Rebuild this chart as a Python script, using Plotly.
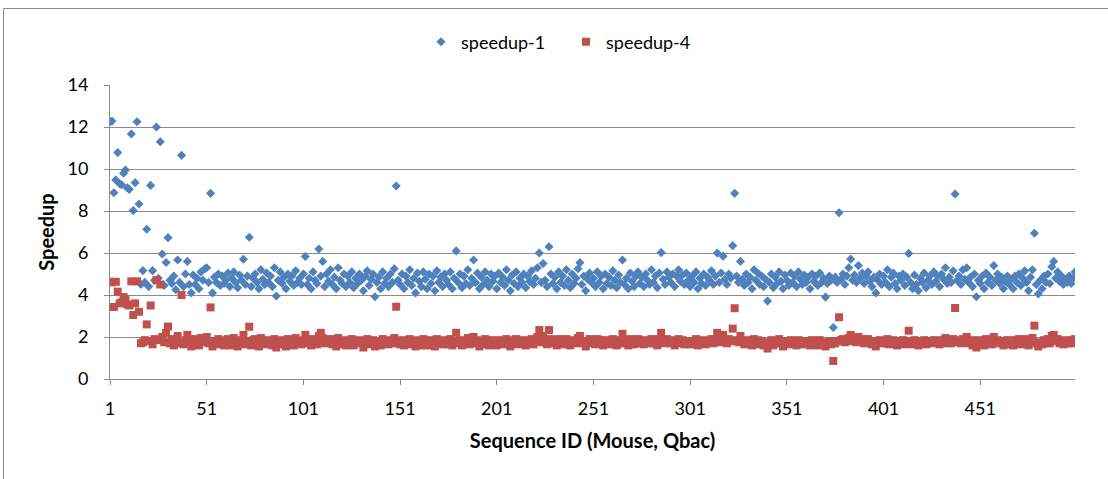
import plotly.graph_objects as go

# ---- data ----
speedup_1 = [
    12.25, 12.28, 8.87, 9.48, 10.78, 9.3, 9.25, 9.8, 9.95, 9.1, 9.03, 11.67, 8.02, 9.35, 12.25, 8.33, 4.5, 5.16, 4.6, 7.13, 4.4, 9.22, 5.16, 4.7, 12.0,
    4.8, 11.3, 5.95, 4.45, 5.55, 6.73, 4.7, 4.55, 4.9, 4.25, 5.67, 4.6, 10.65, 4.4, 5.0, 5.6, 4.5, 4.1, 4.95, 4.5, 4.8, 4.3, 5.1, 4.7, 5.25,
    5.3, 4.6, 8.84, 4.1, 4.85, 4.6, 5.0, 4.45, 4.9, 4.55, 4.7, 5.05, 4.4, 4.8, 5.1, 4.6, 4.35, 4.95, 4.7, 5.7, 4.5, 4.9, 6.75, 4.4, 4.8,
    5.0, 4.6, 4.3, 5.2, 4.75, 4.5, 5.05, 4.6, 4.9, 4.4, 5.3, 3.95, 4.7, 5.1, 4.55, 4.85, 4.3, 5.0, 4.65, 4.9, 4.45, 5.15, 4.6, 4.8, 4.5,
    5.0, 5.83, 4.5, 4.8, 4.3, 5.1, 4.7, 4.55, 6.19, 4.9, 5.6, 4.4, 5.0, 4.65, 5.2, 4.5, 4.85, 4.3, 5.3, 4.7, 4.55, 5.0, 4.4, 4.9, 4.6,
    5.1, 4.35, 4.8, 4.55, 5.0, 4.7, 4.2, 4.9, 5.15, 4.45, 4.75, 5.0, 3.92, 4.6, 4.85, 4.3, 5.1, 4.55, 4.8, 4.4, 5.0, 4.6, 5.25, 9.19, 4.7,
    4.5, 5.0, 4.3, 4.9, 4.6, 5.2, 4.45, 4.8, 4.1, 5.05, 4.65, 4.4, 5.1, 4.75, 4.3, 5.0, 4.55, 4.9, 4.2, 5.15, 4.6, 4.85, 4.4, 5.0, 4.7,
    4.5, 5.1, 4.3, 4.8, 6.1, 4.6, 5.0, 4.35, 4.9, 4.55, 5.2, 4.45, 4.8, 5.67, 4.6, 5.05, 4.3, 4.85, 4.5, 5.1, 4.7, 4.4, 5.0, 4.65, 4.9,
    4.3, 5.05, 4.6, 4.85, 4.45, 5.2, 4.7, 4.2, 4.95, 4.55, 5.1, 4.4, 4.8, 4.6, 5.0, 4.35, 4.9, 4.65, 5.15, 4.5, 4.8, 5.3, 6.0, 4.6, 5.5,
    4.7, 4.4, 6.3, 5.0, 4.55, 4.85, 4.3, 5.1, 4.6, 4.9, 4.45, 5.2, 4.7, 4.35, 5.0, 4.55, 4.8, 5.25, 5.54, 4.5, 4.9, 4.2, 4.75, 5.05, 4.6,
    4.8, 4.4, 5.1, 4.6, 4.9, 4.3, 5.0, 4.55, 4.85, 4.45, 5.15, 4.7, 4.35, 4.95, 4.6, 5.67, 4.5, 4.8, 4.3, 5.05, 4.65, 4.4, 4.9, 5.1, 4.55,
    4.85, 4.4, 5.0, 4.7, 4.5, 5.2, 4.6, 4.9, 4.35, 5.05, 6.02, 4.75, 4.5, 5.1, 4.85, 4.6, 5.0, 4.4, 4.9, 5.2, 4.65, 4.95, 4.5, 5.05, 4.7,
    4.4, 4.9, 4.6, 5.1, 4.3, 4.8, 4.55, 5.0, 4.45, 4.85, 4.7, 5.15, 4.5, 4.9, 6.0, 4.6, 5.05, 5.85, 4.75, 4.5, 5.0, 4.8, 6.35, 8.84, 4.9,
    4.6, 5.6, 4.75, 4.45, 5.0, 4.6, 4.85, 4.3, 5.2, 4.7, 5.05, 4.5, 4.9, 4.4, 4.75, 3.71, 4.6, 5.0, 4.35, 4.85, 4.55, 5.1, 4.65, 4.3, 4.95,
    4.7, 4.45, 5.05, 4.6, 4.9, 4.4, 5.1, 4.75, 4.5, 4.95, 4.6, 4.85, 4.3, 5.0, 4.65, 4.9, 4.45, 5.05, 4.6, 4.8, 3.9, 4.55, 4.9, 4.7, 2.45,
    4.85, 4.6, 7.92, 4.75, 5.0, 4.5, 4.9, 5.3, 5.71, 4.7, 4.95, 4.6, 5.4, 4.8, 5.05, 4.55, 4.9, 5.1, 4.65, 4.4, 4.85, 4.1, 4.7, 5.0, 4.5,
    4.9, 4.6, 5.2, 4.4, 4.85, 5.05, 4.55, 4.3, 4.9, 4.7, 5.0, 4.45, 4.85, 5.98, 4.6, 4.3, 4.95, 4.5, 4.2, 4.8, 4.6, 5.05, 4.35, 4.7, 4.9,
    4.5, 5.1, 4.65, 4.9, 4.4, 5.0, 4.75, 5.3, 4.55, 4.85, 4.6, 5.15, 8.81, 4.7, 4.9, 4.5, 5.2, 4.75, 5.3, 4.6, 4.85, 4.4, 5.0, 3.92, 4.7,
    4.55, 4.9, 4.3, 5.05, 4.6, 4.85, 4.45, 5.4, 4.7, 5.0, 4.55, 4.85, 4.3, 4.65, 4.9, 4.5, 4.75, 4.3, 4.9, 4.6, 5.0, 4.45, 4.8, 5.15, 4.6,
    4.2, 4.85, 5.2, 6.94, 4.5, 4.05, 4.7, 4.3, 4.9, 4.6, 5.0, 4.55, 5.35, 5.6, 4.8, 5.1, 4.65, 4.9, 4.5, 4.75, 4.6, 4.9, 4.55, 4.8, 5.1,
]

speedup_4 = [
    4.63, 4.6, 3.43, 4.63, 4.16, 3.6, 3.65, 3.9, 3.8, 3.55, 3.5, 4.65, 3.05, 3.6, 4.65, 3.2, 1.7, 1.75, 1.85, 2.6, 1.8, 3.5, 1.65, 1.9, 4.7,
    1.85, 4.5, 2.0, 1.75, 2.2, 2.5, 1.7, 1.9, 1.6, 1.8, 2.05, 1.7, 4.0, 1.65, 1.85, 2.1, 1.75, 1.55, 1.9, 1.7, 1.8, 1.6, 1.95, 1.75, 1.85,
    2.0, 1.7, 3.41, 1.55, 1.8, 1.7, 1.9, 1.65, 1.85, 1.6, 1.75, 1.9, 1.6, 1.8, 1.95, 1.7, 1.55, 1.85, 1.75, 2.1, 1.65, 1.8, 2.49, 1.6, 1.85,
    1.9, 1.7, 1.55, 1.95, 1.75, 1.65, 1.85, 1.7, 1.8, 1.6, 1.9, 1.5, 1.75, 1.85, 1.65, 1.8, 1.55, 1.9, 1.7, 1.85, 1.6, 1.95, 1.7, 1.8, 1.65,
    1.85, 2.1, 1.7, 1.8, 1.6, 1.9, 1.75, 1.65, 2.05, 2.2, 1.95, 1.7, 1.85, 1.75, 1.9, 1.65, 1.8, 1.55, 1.95, 1.7, 1.65, 1.85, 1.6, 1.8, 1.7,
    1.9, 1.6, 1.8, 1.7, 1.85, 1.75, 1.5, 1.8, 1.9, 1.65, 1.75, 1.85, 1.55, 1.7, 1.8, 1.6, 1.9, 1.7, 1.8, 1.65, 1.85, 1.7, 1.95, 3.44, 1.75,
    1.65, 1.85, 1.6, 1.8, 1.7, 1.9, 1.65, 1.8, 1.55, 1.85, 1.7, 1.6, 1.9, 1.75, 1.6, 1.85, 1.7, 1.8, 1.55, 1.9, 1.7, 1.8, 1.65, 1.85, 1.75,
    1.65, 1.9, 1.6, 1.8, 2.2, 1.7, 1.85, 1.6, 1.8, 1.7, 1.95, 1.65, 1.8, 2.0, 1.7, 1.85, 1.55, 1.8, 1.65, 1.9, 1.75, 1.6, 1.85, 1.7, 1.8,
    1.6, 1.85, 1.7, 1.8, 1.65, 1.9, 1.75, 1.55, 1.85, 1.7, 1.9, 1.65, 1.8, 1.7, 1.85, 1.6, 1.8, 1.7, 1.9, 1.65, 1.8, 2.0, 2.33, 1.75, 2.05,
    1.75, 1.65, 2.33, 1.9, 1.7, 1.8, 1.6, 1.9, 1.7, 1.85, 1.65, 1.9, 1.75, 1.6, 1.85, 1.7, 1.8, 1.95, 2.05, 1.7, 1.8, 1.55, 1.75, 1.9, 1.7,
    1.8, 1.65, 1.9, 1.7, 1.85, 1.6, 1.85, 1.7, 1.8, 1.65, 1.9, 1.75, 1.6, 1.85, 1.7, 2.15, 1.7, 1.8, 1.6, 1.9, 1.75, 1.65, 1.85, 1.9, 1.7,
    1.8, 1.65, 1.85, 1.75, 1.7, 1.9, 1.7, 1.85, 1.6, 1.9, 2.2, 1.8, 1.7, 1.9, 1.8, 1.7, 1.85, 1.6, 1.8, 1.9, 1.7, 1.85, 1.65, 1.8, 1.75,
    1.65, 1.8, 1.7, 1.9, 1.6, 1.8, 1.7, 1.85, 1.65, 1.8, 1.75, 1.9, 1.7, 1.85, 2.2, 1.75, 1.9, 2.1, 1.8, 1.7, 1.9, 1.8, 2.4, 3.37, 1.85,
    1.75, 2.05, 1.8, 1.65, 1.85, 1.7, 1.8, 1.6, 1.9, 1.75, 1.85, 1.65, 1.8, 1.6, 1.7, 1.45, 1.75, 1.85, 1.6, 1.8, 1.7, 1.9, 1.7, 1.55, 1.8,
    1.75, 1.65, 1.85, 1.7, 1.8, 1.6, 1.85, 1.75, 1.65, 1.8, 1.7, 1.8, 1.6, 1.85, 1.7, 1.8, 1.6, 1.85, 1.7, 1.75, 1.55, 1.7, 1.8, 1.65, 0.86,
    1.7, 1.8, 2.94, 1.85, 1.9, 1.75, 1.85, 1.95, 2.1, 1.8, 1.9, 1.75, 2.0, 1.8, 1.9, 1.7, 1.85, 1.9, 1.75, 1.65, 1.8, 1.55, 1.75, 1.85, 1.7,
    1.8, 1.7, 1.9, 1.65, 1.8, 1.85, 1.7, 1.6, 1.8, 1.75, 1.85, 1.65, 1.8, 2.3, 1.75, 1.65, 1.85, 1.7, 1.6, 1.8, 1.7, 1.85, 1.65, 1.75, 1.8,
    1.7, 1.85, 1.75, 1.8, 1.65, 1.85, 1.75, 1.95, 1.7, 1.8, 1.7, 1.9, 3.38, 1.75, 1.85, 1.7, 1.9, 1.75, 2.0, 1.7, 1.8, 1.6, 1.85, 1.5, 1.75,
    1.7, 1.85, 1.6, 1.9, 1.7, 1.8, 1.65, 2.0, 1.75, 1.85, 1.7, 1.8, 1.6, 1.75, 1.85, 1.65, 1.8, 1.6, 1.85, 1.7, 1.9, 1.65, 1.8, 1.9, 1.7,
    1.6, 1.8, 1.95, 2.54, 1.7, 1.55, 1.75, 1.65, 1.85, 1.7, 1.9, 1.7, 2.05, 2.1, 1.8, 1.9, 1.7, 1.85, 1.65, 1.8, 1.7, 1.85, 1.7, 1.8, 1.9,
]

sequence_ids = list(range(1, len(speedup_1) + 1))
x_tick_vals = [1, 51, 101, 151, 201, 251, 301, 351, 401, 451]
x_tick_text = ["1", "51", "101", "151", "201", "251", "301", "351", "401", "451"]
y_tick_vals = [0, 2, 4, 6, 8, 10, 12, 14]

FONT = "Lato"
GRID = "#8C8C8C"
L, R, T, B = 110, 33, 85, 100
PW, PH = 1108 - L - R, 479 - T - B

fig = go.Figure()
fig.add_trace(go.Scatter(
    x=sequence_ids, y=speedup_1, mode="markers", name="speedup-1",
    marker=dict(symbol="diamond", size=7, color="#4F81BD",
                line=dict(width=0)),
))
fig.add_trace(go.Scatter(
    x=sequence_ids, y=speedup_4, mode="markers", name="speedup-4",
    marker=dict(symbol="square", size=8, color="#C0504D",
                line=dict(width=0)),
))

fig.update_layout(
    width=1108, height=479,
    margin=dict(l=L, r=R, t=T, b=B),
    paper_bgcolor="white", plot_bgcolor="white",
    font=dict(family=FONT, size=18, color="#000000"),
    showlegend=True,
    legend=dict(orientation="h", x=(566 - L) / PW, xanchor="center",
                y=(379 - 42) / PH, yanchor="middle",
                font=dict(family=FONT, size=18),
                itemwidth=30, entrywidth=100, entrywidthmode="pixels",
                bgcolor="rgba(0,0,0,0)"),
    xaxis=dict(
        range=[1, 500], tickmode="array", tickvals=x_tick_vals,
        ticktext=x_tick_text, showgrid=False, zeroline=False,
        showline=True, linecolor=GRID, linewidth=1,
        ticks="outside", ticklen=5, tickcolor=GRID,
        ticklabelstandoff=8,
        tickfont=dict(family=FONT, size=18),
        title=dict(text="<b>Sequence ID (Mouse, Qbac)</b>",
                   font=dict(family=FONT, size=20), standoff=16),
    ),
    yaxis=dict(
        range=[0, 14], tickmode="array", tickvals=y_tick_vals,
        showgrid=True, gridcolor=GRID, gridwidth=1, zeroline=False,
        showline=True, linecolor=GRID, linewidth=1,
        ticks="outside", ticklen=5, tickcolor=GRID,
        ticklabelstandoff=12,
        tickfont=dict(family=FONT, size=18),
        title=dict(text="<b>Speedup</b>",
                   font=dict(family=FONT, size=20), standoff=7),
    ),
    shapes=[dict(type="rect", xref="paper", yref="paper",
                 x0=(3.5 - L) / PW, x1=(1115 - L) / PW,
                 y0=(379 - 490) / PH, y1=(379 - 8.5) / PH,
                 line=dict(color="#8C8C8C", width=1), layer="below")],
)

fig.write_html("out.html")
